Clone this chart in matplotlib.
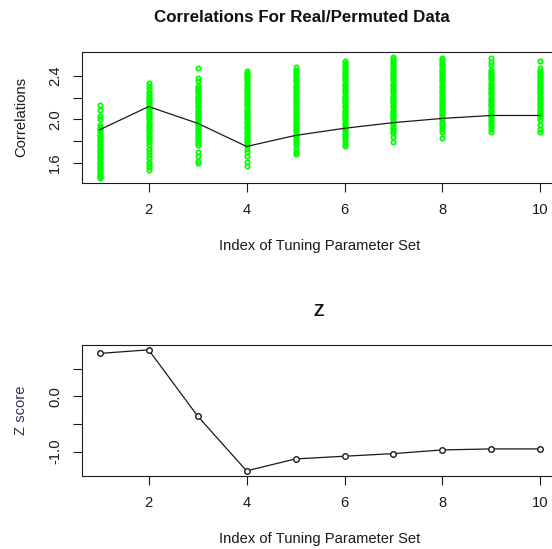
import matplotlib
matplotlib.use("Agg")
import matplotlib.pyplot as plt
import numpy as np

INDICES = [1, 2, 3, 4, 5, 6, 7, 8, 9, 10]

# correlaciones con los datos reales (linea negra)
CORR_REAL = [1.904, 2.118, 1.964, 1.75, 1.852, 1.918, 1.970, 2.009, 2.036, 2.036]

# correlaciones con datos permutados, una lista por conjunto de parametros
PERM_1 = [2.13, 2.09, 2.03, 2.00, 1.95, 1.93, 1.91, 1.90, 1.88, 1.86, 1.85, 1.83, 1.81, 1.80,
          1.78, 1.76, 1.75, 1.73, 1.71, 1.70, 1.68, 1.66, 1.65, 1.63, 1.61, 1.60, 1.58, 1.56,
          1.55, 1.53, 1.51, 1.50, 1.48, 1.47, 1.46]
PERM_2 = [2.34, 2.31, 2.28, 2.25, 2.23, 2.21, 2.20, 2.18, 2.16, 2.15, 2.13, 2.11, 2.10, 2.08,
          2.06, 2.05, 2.03, 2.01, 2.00, 1.98, 1.96, 1.95, 1.93, 1.91, 1.90, 1.88, 1.86, 1.85,
          1.83, 1.81, 1.79, 1.76, 1.73, 1.70, 1.67, 1.64, 1.61, 1.59, 1.56, 1.53]
PERM_3 = [2.47, 2.38, 2.35, 2.31, 2.29, 2.27, 2.26, 2.24, 2.22, 2.21, 2.19, 2.17, 2.16, 2.14,
          2.12, 2.11, 2.09, 2.07, 2.06, 2.04, 2.02, 2.01, 1.99, 1.97, 1.96, 1.94, 1.92, 1.91,
          1.89, 1.87, 1.86, 1.84, 1.82, 1.80, 1.78, 1.76, 1.70, 1.66, 1.62, 1.60]
PERM_4 = [2.45, 2.43, 2.42, 2.40, 2.38, 2.37, 2.35, 2.33, 2.32, 2.30, 2.28, 2.27, 2.25, 2.23,
          2.22, 2.20, 2.18, 2.17, 2.15, 2.13, 2.12, 2.10, 2.08, 2.07, 2.05, 2.03, 2.02, 2.00,
          1.98, 1.97, 1.95, 1.93, 1.92, 1.90, 1.88, 1.87, 1.85, 1.83, 1.82, 1.80, 1.79, 1.76,
          1.73, 1.70, 1.66, 1.61, 1.57]
PERM_5 = [2.48, 2.46, 2.45, 2.43, 2.41, 2.40, 2.38, 2.36, 2.35, 2.33, 2.31, 2.30, 2.28, 2.26,
          2.25, 2.23, 2.21, 2.20, 2.18, 2.16, 2.15, 2.13, 2.11, 2.10, 2.08, 2.06, 2.05, 2.03,
          2.01, 2.00, 1.98, 1.96, 1.95, 1.93, 1.91, 1.90, 1.88, 1.86, 1.85, 1.83, 1.81, 1.80,
          1.78, 1.76, 1.73, 1.70, 1.68]
PERM_6 = [2.54, 2.52, 2.51, 2.49, 2.47, 2.46, 2.44, 2.42, 2.41, 2.39, 2.37, 2.36, 2.34, 2.32,
          2.31, 2.29, 2.27, 2.26, 2.24, 2.22, 2.21, 2.19, 2.17, 2.16, 2.14, 2.12, 2.11, 2.09,
          2.07, 2.06, 2.04, 2.02, 2.01, 1.99, 1.97, 1.96, 1.94, 1.92, 1.91, 1.89, 1.87, 1.86,
          1.84, 1.82, 1.80, 1.77, 1.75]
PERM_7 = [2.58, 2.56, 2.54, 2.52, 2.51, 2.49, 2.47, 2.46, 2.44, 2.42, 2.41, 2.39, 2.37, 2.36,
          2.34, 2.32, 2.31, 2.29, 2.27, 2.26, 2.24, 2.22, 2.21, 2.19, 2.17, 2.16, 2.14, 2.12,
          2.11, 2.09, 2.07, 2.06, 2.04, 2.02, 2.01, 1.99, 1.97, 1.96, 1.94, 1.92, 1.91, 1.89,
          1.87, 1.84, 1.79]
PERM_8 = [2.57, 2.55, 2.53, 2.51, 2.50, 2.48, 2.46, 2.45, 2.43, 2.41, 2.40, 2.38, 2.36, 2.35,
          2.33, 2.31, 2.30, 2.28, 2.26, 2.25, 2.23, 2.21, 2.20, 2.18, 2.16, 2.15, 2.13, 2.11,
          2.10, 2.08, 2.06, 2.05, 2.03, 2.01, 2.00, 1.98, 1.96, 1.94, 1.91, 1.88, 1.83]
PERM_9 = [2.57, 2.53, 2.50, 2.46, 2.44, 2.43, 2.41, 2.39, 2.38, 2.36, 2.34, 2.33, 2.31, 2.29,
          2.28, 2.26, 2.24, 2.23, 2.21, 2.19, 2.18, 2.16, 2.14, 2.13, 2.11, 2.09, 2.08, 2.06,
          2.04, 2.03, 2.01, 1.99, 1.98, 1.96, 1.94, 1.91, 1.88]
PERM_10 = [2.54, 2.47, 2.45, 2.44, 2.42, 2.40, 2.39, 2.37, 2.35, 2.34, 2.32, 2.30, 2.29, 2.27,
           2.25, 2.24, 2.22, 2.20, 2.19, 2.17, 2.15, 2.14, 2.12, 2.10, 2.09, 2.07, 2.05, 2.04,
           2.02, 1.99, 1.95, 1.91, 1.88]

PERMUTADAS = [PERM_1, PERM_2, PERM_3, PERM_4, PERM_5, PERM_6, PERM_7, PERM_8, PERM_9, PERM_10]

Z_SCORE = [0.776, 0.841, -0.356, -1.348, -1.132, -1.083, -1.036, -0.969, -0.951, -0.951]

TITULO = "Correlations For Real/Permuted Data"
ETIQUETA_X = "Index of Tuning Parameter Set"

plt.rcParams["font.family"] = ["Liberation Sans", "DejaVu Sans"]

TAM_TICK = 10.6
TAM_TITULO = 12.2


def EstiloEjes(ax):
    for lado in ax.spines.values():
        lado.set_linewidth(0.8)
        lado.set_color("#1a1a1a")
    ax.spines["right"].set_visible(False)
    ax.tick_params(direction="out", length=6.5, width=0.8, color="#1a1a1a",
                   labelsize=TAM_TICK, pad=8, labelcolor="#1a1a1a")
    ax.set_xticks([2, 4, 6, 8, 10])
    ax.margins(x=0.04, y=0.04)
    for lab in ax.get_yticklabels():
        lab.set_rotation(90)
        lab.set_va("center")


fig = plt.figure(figsize=(5.52, 5.49), dpi=100)

# panel superior: correlaciones
ax1 = fig.add_axes([0.1486, 0.6672, 0.8623, 0.2386])
for i, valores in zip(INDICES, PERMUTADAS):
    ax1.plot(np.full(len(valores), i), valores, linestyle="none", marker="o",
             markersize=3.1, markeredgewidth=1.3, markerfacecolor="none",
             markeredgecolor="#00ff00", zorder=2)
ax1.plot(INDICES, CORR_REAL, color="#1a1a1a", linewidth=0.9, zorder=3)
ax1.set_yticks([1.6, 1.8, 2.0, 2.2, 2.4])
ax1.set_yticklabels(["1.6", "", "2.0", "", "2.4"])
EstiloEjes(ax1)
ax1.set_ylabel("Correlations", fontsize=TAM_TICK, color="#1a1a1a", labelpad=14)
ax1.set_xlabel(ETIQUETA_X, fontsize=TAM_TICK, color="#1a1a1a", labelpad=16)
fig.text(302 / 552, 1 - 17 / 549, TITULO, ha="center", va="center",
         fontsize=TAM_TITULO, fontweight="bold", color="#111111")

# panel inferior: Z score
ax2 = fig.add_axes([0.1486, 0.1335, 0.8623, 0.2381])
ax2.plot(INDICES, Z_SCORE, color="#1a1a1a", linewidth=0.9, marker="o",
         markersize=4.0, markeredgewidth=1.0, markerfacecolor="white",
         markeredgecolor="#1a1a1a")
ax2.set_yticks([-1.0, -0.5, 0.0, 0.5])
ax2.set_yticklabels(["-1.0", "", "0.0", ""])
EstiloEjes(ax2)
ax2.set_ylabel("Z score", fontsize=TAM_TICK, color="#3c2c5c", labelpad=14)
ax2.set_xlabel(ETIQUETA_X, fontsize=TAM_TICK, color="#1a1a1a", labelpad=16)
fig.text(319 / 552, 1 - 311 / 549, "Z", ha="center", va="center",
         fontsize=TAM_TITULO, fontweight="bold", color="#111111")

fig.savefig("out.png", dpi=100)
